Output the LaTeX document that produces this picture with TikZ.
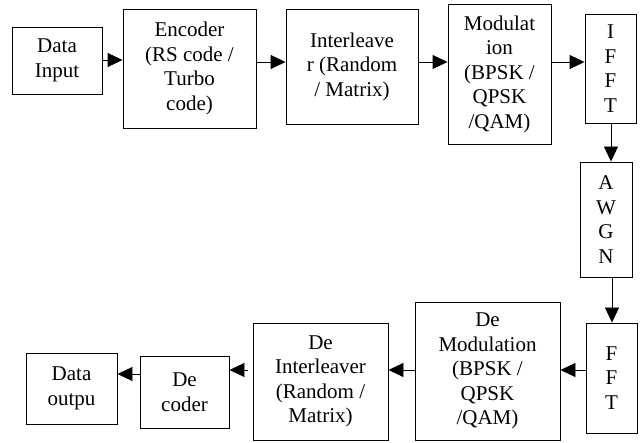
\documentclass[tikz,border=0pt]{standalone}
\usepackage{fontspec}
\setmainfont{Liberation Serif}
\usetikzlibrary{arrows.meta}
\begin{document}
\begin{tikzpicture}[x=1pt,y=-1pt,
  blk/.style={draw, line width=0.9pt, align=center, inner sep=0pt,
    font=\fontsize{21}{24.5}\selectfont},
  arr/.style={-{Triangle[length=15pt,width=14pt]}, line width=0.9pt}]
\useasboundingbox (0,0) rectangle (641,443);
% transmitter chain
\node[blk, minimum width=90, minimum height=67]  (din)  at (57,60.5)    {Data\\Input};
\node[blk, minimum width=133, minimum height=119] (enc) at (189.5,68.5) {Encoder\\(RS code /\\Turbo\\code)};
\node[blk, minimum width=132, minimum height=115] (intl) at (352,66.5)  {Interleave\\r (Random\\/ Matrix)};
\node[blk, minimum width=103, minimum height=140] (mod) at (499.5,74)   {Modulat\\ion\\(BPSK /\\QPSK\\/QAM)};
\node[blk, minimum width=51, minimum height=109]  (ifft) at (610.5,68.5) {I\\F\\F\\T};
% channel
\node[blk, minimum width=52, minimum height=115]  (awgn) at (606,219.5)  {A\\W\\G\\N};
% receiver chain
\node[blk, minimum width=51, minimum height=110]  (fft)  at (611.5,378)  {F\\F\\T};
\node[blk, minimum width=145, minimum height=138] (dmod) at (487.5,371)  {De\\Modulation\\(BPSK /\\QPSK\\/QAM)};
\node[blk, minimum width=135, minimum height=117] (dint) at (320.5,381.5) {De\\Interleaver\\(Random /\\Matrix)};
\node[blk, minimum width=89, minimum height=72]   (dec)  at (184.5,392)  {De\\coder};
\node[blk, minimum width=91, minimum height=71]   (dout) at (71.5,388.5) {Data\\outpu};
% connectors
\draw[arr] (din.east |- 0,60) -- (enc.west |- 0,60);
\draw[arr] (enc.east |- 0,62) -- (intl.west |- 0,62);
\draw[arr] (intl.east |- 0,62) -- (mod.west |- 0,62);
\draw[arr] (mod.east |- 0,62) -- (ifft.west |- 0,62);
\draw[arr] (ifft.south -| 611,0) -- (awgn.north -| 611,0);
\draw[arr] (awgn.south -| 612,0) -- (fft.north -| 612,0);
\draw[arr] (fft.west |- 0,370) -- (dmod.east |- 0,370);
\draw[arr] (dmod.west |- 0,370) -- (dint.east |- 0,370);
\draw[arr] ([xshift=-5pt]dint.west |- 0,370) -- (dec.east |- 0,370);
\draw[arr] (dec.west |- 0,374) -- (dout.east |- 0,374);
\end{tikzpicture}
\end{document}
